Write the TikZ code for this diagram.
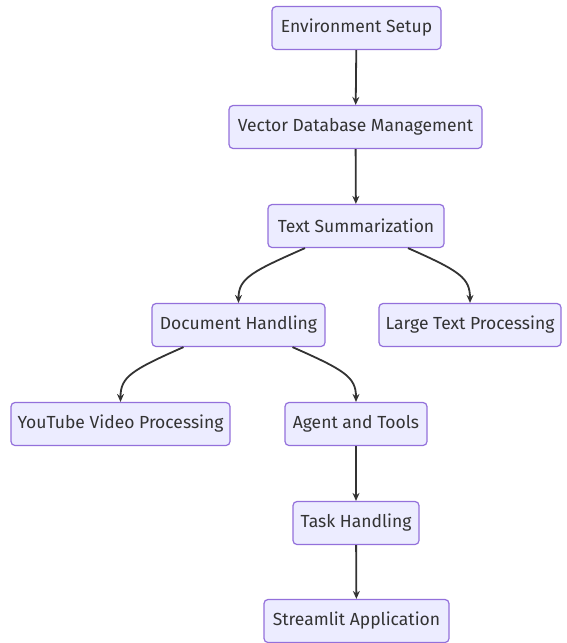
\documentclass[tikz,border=0pt]{standalone}
\usepackage{fontspec}
\setmainfont{Fira Sans}
\usetikzlibrary{arrows.meta}
\definecolor{boxfill}{HTML}{ECECFF}
\definecolor{boxline}{HTML}{9370DB}
\definecolor{ink}{HTML}{333333}
\begin{document}
\begin{tikzpicture}[x=1pt,y=-1pt,
  box/.style={draw=boxline, fill=boxfill, line width=1.2pt, rounded corners=4pt,
    minimum height=43pt, inner sep=0pt, text=ink, font=\fontsize{17.5}{20}\selectfont},
  flow/.style={draw=ink, line width=1.8pt, -{Stealth[length=8pt,width=7pt]}}]
\useasboundingbox (0,0) rectangle (566,643);
\node[box, minimum width=169pt] (env) at (356.5,28) {Environment Setup};
\node[box, minimum width=253pt] (vdb) at (355.5,127) {Vector Database Management};
\node[box, minimum width=176pt] (ts) at (356,226) {Text Summarization};
\node[box, minimum width=173pt] (dh) at (238.5,325) {Document Handling};
\node[box, minimum width=182pt] (lt) at (470,325) {Large Text Processing};
\node[box, minimum width=219pt] (yt) at (120.5,424) {YouTube Video Processing};
\node[box, minimum width=142pt] (at) at (356,424) {Agent and Tools};
\node[box, minimum width=126pt] (th) at (356,523) {Task Handling};
\node[box, minimum width=185pt] (sa) at (356.5,621) {Streamlit Application};
\draw[flow] (env) -- (vdb);
\draw[flow] (vdb) -- (ts);
\draw[flow] ([xshift=-51pt]ts.south) .. controls +(-52,23) and +(0,-25) .. (dh.north);
\draw[flow] ([xshift=52pt]ts.south) .. controls +(52,23) and +(0,-25) .. (lt.north);
\draw[flow] ([xshift=-55pt]dh.south) .. controls +(-52,23) and +(0,-25) .. (yt.north);
\draw[flow] ([xshift=54pt]dh.south) .. controls +(52,23) and +(0,-25) .. (at.north);
\draw[flow] (at) -- (th);
\draw[flow] (th) -- (sa);
\end{tikzpicture}
\end{document}
